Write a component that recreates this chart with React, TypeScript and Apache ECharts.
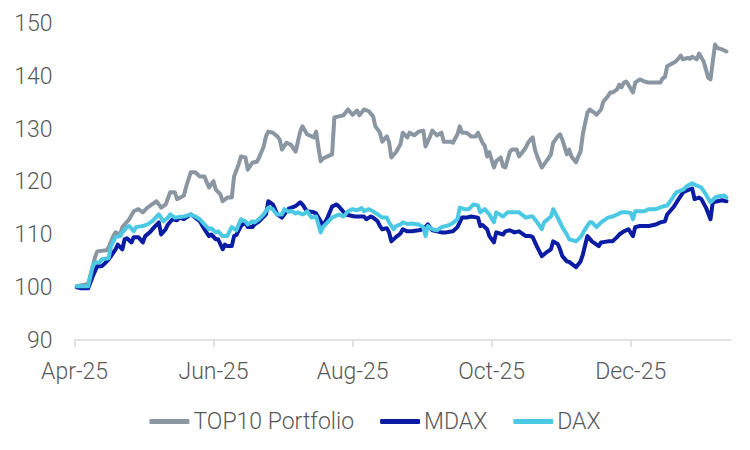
import React, { useEffect, useRef } from "react";
import * as echarts from "echarts";

// Index levels (start = 100). Days are counted from 1 April 2025.
const top10Days = [1, 6, 9, 10, 14, 15, 17, 18, 20, 21, 24, 26, 28, 30, 32, 34, 36, 38, 40, 42, 44, 45, 48, 49, 51, 53, 55, 57, 59, 61, 62, 64, 65, 67, 69, 70, 72, 73, 75, 76, 78, 80, 81, 83, 84, 85, 87, 89, 90, 91, 93, 95, 97, 99, 100, 102, 105, 106, 107, 108, 109, 111, 113, 114, 116, 118, 120, 122, 124, 125, 127, 129, 131, 132, 134, 135, 137, 138, 139, 141, 143, 144, 146, 147, 149, 151, 153, 154, 156, 157, 159, 161, 162, 165, 166, 168, 169, 170, 172, 174, 176, 177, 179, 180, 181, 182, 184, 185, 187, 188, 189, 191, 192, 194, 195, 196, 198, 199, 200, 201, 202, 203, 205, 207, 209, 210, 212, 213, 214, 216, 217, 218, 220, 221, 222, 223, 225, 226, 228, 229, 231, 232, 234, 235, 236, 238, 239, 240, 241, 242, 243, 245, 246, 248, 250, 252, 255, 257, 258, 259, 260, 263, 264, 266, 267, 269, 270, 271, 273, 274, 276, 277, 278, 279, 280, 281, 282, 284, 286];
const top10Values = [100.2, 100.6, 105.7, 106.8, 107.0, 107.6, 109.7, 110.4, 110.0, 111.4, 112.9, 114.4, 114.8, 114.2, 115.1, 115.7, 116.3, 115.1, 115.7, 118.0, 118.0, 116.7, 117.4, 119.1, 121.8, 121.8, 121.0, 121.0, 118.9, 120.1, 118.5, 117.6, 116.3, 117.0, 117.0, 121.0, 123.3, 124.8, 124.6, 122.3, 123.6, 123.8, 124.6, 126.7, 128.6, 129.5, 129.3, 128.6, 128.0, 126.1, 127.4, 127.0, 125.7, 129.5, 130.5, 129.0, 128.4, 129.5, 126.5, 123.9, 124.4, 124.8, 125.2, 132.2, 132.4, 132.6, 133.7, 132.7, 133.5, 132.6, 133.7, 133.4, 132.4, 130.5, 129.3, 127.6, 128.6, 127.5, 124.6, 125.6, 127.1, 129.3, 128.4, 129.3, 128.8, 129.5, 129.7, 126.7, 128.6, 129.7, 128.8, 129.3, 127.6, 127.6, 127.4, 129.0, 130.5, 129.3, 129.3, 128.6, 128.6, 129.3, 127.4, 126.8, 124.8, 125.6, 122.7, 123.9, 124.6, 122.9, 122.7, 125.7, 126.1, 126.1, 124.8, 125.3, 126.5, 127.4, 128.0, 128.4, 126.1, 124.8, 122.7, 123.9, 125.2, 127.4, 128.6, 129.0, 128.0, 125.2, 126.1, 124.8, 123.7, 124.8, 125.7, 129.0, 133.1, 133.7, 133.1, 132.7, 133.7, 135.2, 136.2, 136.9, 136.9, 137.5, 138.4, 137.9, 138.8, 139.0, 138.4, 136.9, 138.8, 139.4, 139.0, 138.8, 138.8, 138.8, 139.6, 139.8, 141.9, 142.6, 142.9, 143.9, 143.2, 143.5, 143.3, 143.7, 143.2, 144.3, 142.8, 141.3, 139.7, 139.4, 142.8, 146.0, 145.4, 145.1, 144.7];

const mdaxDays = [1, 3, 6, 8, 10, 12, 13, 15, 16, 18, 19, 21, 22, 23, 25, 26, 28, 30, 31, 33, 35, 37, 38, 40, 41, 43, 45, 46, 48, 51, 53, 55, 57, 59, 60, 62, 63, 65, 66, 67, 69, 70, 71, 73, 75, 76, 78, 79, 81, 84, 85, 87, 88, 89, 91, 93, 94, 97, 99, 100, 102, 105, 106, 108, 109, 111, 113, 115, 116, 119, 121, 123, 125, 127, 128, 130, 131, 133, 134, 135, 137, 138, 139, 141, 143, 144, 146, 148, 151, 153, 155, 157, 159, 161, 163, 166, 168, 170, 172, 174, 177, 178, 179, 181, 182, 184, 185, 188, 189, 191, 193, 195, 198, 200, 201, 203, 205, 207, 209, 210, 212, 213, 214, 216, 217, 220, 222, 223, 225, 227, 230, 231, 234, 236, 238, 239, 241, 243, 245, 246, 248, 250, 252, 255, 257, 259, 260, 263, 265, 267, 269, 271, 272, 274, 275, 277, 279, 280, 282, 284, 286];
const mdaxValues = [100.0, 99.8, 99.8, 102.1, 104.0, 104.0, 104.4, 105.3, 105.9, 107.2, 108.1, 107.2, 109.1, 109.3, 108.5, 109.5, 109.5, 108.5, 109.7, 110.4, 111.4, 112.3, 110.0, 111.0, 111.9, 112.9, 112.7, 113.2, 112.9, 113.8, 113.2, 112.5, 111.0, 109.7, 110.0, 109.1, 109.1, 107.2, 108.1, 107.8, 107.8, 109.7, 109.9, 111.6, 112.3, 111.4, 111.4, 111.9, 112.5, 113.8, 116.3, 115.7, 114.8, 113.8, 113.2, 114.4, 114.9, 115.4, 116.1, 115.7, 114.4, 114.2, 114.0, 112.5, 111.6, 113.2, 115.3, 115.7, 115.3, 113.8, 113.6, 113.4, 113.4, 113.4, 112.9, 113.4, 113.2, 112.5, 111.6, 111.0, 111.2, 110.4, 108.7, 109.5, 110.2, 111.0, 110.6, 110.6, 110.8, 111.0, 111.9, 110.8, 110.6, 110.4, 110.4, 110.6, 111.4, 113.2, 113.2, 113.4, 113.2, 111.6, 111.8, 111.0, 109.7, 108.5, 110.4, 110.0, 110.6, 110.8, 110.4, 110.6, 109.7, 109.7, 109.5, 107.6, 105.9, 106.6, 107.2, 108.7, 108.2, 107.2, 105.9, 104.9, 104.8, 103.8, 104.9, 106.2, 109.7, 108.7, 107.8, 108.5, 108.7, 108.7, 109.5, 110.0, 110.6, 111.0, 109.7, 111.4, 111.6, 111.6, 111.6, 111.9, 112.3, 112.5, 113.8, 115.3, 116.7, 118.0, 118.4, 118.7, 116.7, 117.0, 116.7, 115.1, 112.9, 116.1, 116.3, 116.5, 116.3];

const daxDays = [1, 6, 8, 9, 11, 12, 15, 16, 18, 20, 21, 23, 24, 26, 27, 30, 32, 34, 36, 37, 39, 41, 42, 44, 46, 48, 51, 53, 55, 57, 59, 60, 62, 63, 65, 67, 68, 69, 71, 73, 75, 76, 78, 79, 81, 83, 85, 87, 88, 89, 91, 92, 94, 95, 97, 98, 100, 101, 102, 104, 106, 108, 109, 111, 113, 116, 118, 120, 122, 124, 126, 127, 129, 131, 133, 135, 137, 138, 140, 141, 143, 144, 146, 148, 151, 153, 154, 155, 157, 159, 161, 163, 165, 166, 168, 169, 171, 173, 175, 177, 178, 180, 182, 184, 185, 188, 190, 192, 194, 195, 198, 200, 201, 203, 205, 206, 209, 210, 212, 213, 214, 216, 217, 220, 222, 224, 226, 227, 229, 231, 234, 236, 238, 240, 242, 244, 245, 246, 248, 250, 252, 255, 258, 260, 262, 264, 267, 269, 271, 273, 275, 277, 279, 281, 282, 285, 286];
const daxValues = [100.2, 100.2, 104.0, 104.7, 104.7, 105.3, 105.5, 107.8, 109.5, 109.7, 110.4, 111.4, 111.6, 110.6, 111.4, 111.6, 111.9, 112.5, 113.4, 113.8, 112.5, 113.2, 113.8, 113.2, 113.3, 113.4, 113.8, 113.4, 112.9, 111.9, 111.0, 111.2, 110.4, 110.6, 109.7, 109.7, 110.6, 111.4, 110.8, 112.9, 112.5, 111.9, 112.5, 112.3, 112.9, 113.8, 115.1, 114.8, 114.2, 113.8, 113.8, 114.8, 114.3, 114.5, 114.0, 114.2, 113.8, 114.0, 114.4, 113.2, 113.4, 110.4, 111.4, 112.3, 113.2, 113.8, 113.4, 114.4, 114.8, 114.6, 115.0, 114.4, 114.8, 114.4, 113.8, 113.2, 113.2, 112.3, 111.0, 111.6, 111.9, 112.3, 112.0, 112.1, 111.9, 111.4, 109.7, 111.6, 111.0, 110.8, 111.4, 111.6, 111.9, 112.2, 112.9, 115.1, 114.8, 114.8, 115.7, 115.5, 114.2, 114.8, 113.8, 112.3, 114.2, 113.4, 114.2, 114.2, 114.2, 114.2, 113.2, 113.4, 113.4, 112.3, 111.0, 112.3, 113.4, 114.8, 113.2, 112.3, 111.4, 110.0, 109.1, 108.7, 109.5, 111.0, 112.3, 112.3, 111.4, 112.3, 113.2, 113.4, 113.8, 114.2, 114.2, 114.1, 112.9, 114.4, 114.4, 114.4, 114.8, 114.8, 115.3, 115.5, 116.7, 118.0, 118.5, 119.3, 119.7, 119.3, 118.9, 117.6, 116.1, 117.0, 117.2, 117.4, 117.0];

// Month ticks (days since 1 April 2025) and their labels
const monthTickDays = [0, 61, 122, 183, 244];
const monthTickLabels = ["Apr-25", "Jun-25", "Aug-25", "Oct-25", "Dec-25"];

const seriesNames = ["TOP10 Portfolio", "MDAX", "DAX"];
const seriesColors = ["#8a96a2", "#0a1ca3", "#4bc9e4"];

const FONT = "Roboto, 'Noto Sans', sans-serif";
const TEXT_COLOR = "#595959";
const FONT_SIZE = 23;

function pairs(days: number[], values: number[]) {
  return days.map((d, i) => [d, values[i]]);
}

export default function App() {
  const ref = useRef<HTMLDivElement>(null);

  useEffect(() => {
    document.body.style.margin = "0";
    if (!ref.current) return;
    const chart = echarts.init(ref.current, undefined, { renderer: "svg" });
    const datasets = [
      pairs(top10Days, top10Values),
      pairs(mdaxDays, mdaxValues),
      pairs(daxDays, daxValues),
    ];
    chart.setOption({
      animation: false,
      backgroundColor: "#ffffff",
      grid: { left: 74.5, right: 19, top: 23.5, bottom: 110, containLabel: false },
      legend: {
        top: 405,
        left: "center",
        icon: "roundRect",
        itemWidth: 40,
        itemHeight: 5,
        itemGap: 26,
        textStyle: { color: TEXT_COLOR, fontSize: FONT_SIZE, fontFamily: FONT, fontWeight: 300, padding: [0, 0, 0, -1] },
        data: seriesNames,
      },
      xAxis: {
        type: "value",
        min: 0,
        max: 288,
        splitLine: { show: false },
        axisLine: { lineStyle: { color: "#d9d9d9", width: 1.5 } },
        axisTick: {
          show: true,
          customValues: monthTickDays,
          length: 7,
          lineStyle: { color: "#d9d9d9", width: 1.5 },
        },
        axisLabel: {
          customValues: monthTickDays,
          margin: 20,
          color: TEXT_COLOR,
          fontSize: FONT_SIZE,
          fontFamily: FONT,
          fontWeight: 300,
          formatter: (v: number) => {
            const i = monthTickDays.indexOf(Math.round(v));
            return i >= 0 ? monthTickLabels[i] : "";
          },
        },
      },
      yAxis: {
        type: "value",
        min: 90,
        max: 150,
        interval: 10,
        splitLine: { show: false },
        axisLine: { show: false },
        axisTick: { show: false },
        axisLabel: { margin: 22, color: TEXT_COLOR, fontSize: FONT_SIZE, fontFamily: FONT, fontWeight: 300 },
      },
      series: seriesNames.map((name, i) => ({
        name,
        type: "line",
        data: datasets[i],
        showSymbol: false,
        symbol: "none",
        color: seriesColors[i],
        lineStyle: { width: 4, color: seriesColors[i], cap: "round", join: "round" },
        z: 2 + i,
      })),
    });
    return () => chart.dispose();
  }, []);

  return <div ref={ref} style={{ width: 750, height: 450 }} />;
}
